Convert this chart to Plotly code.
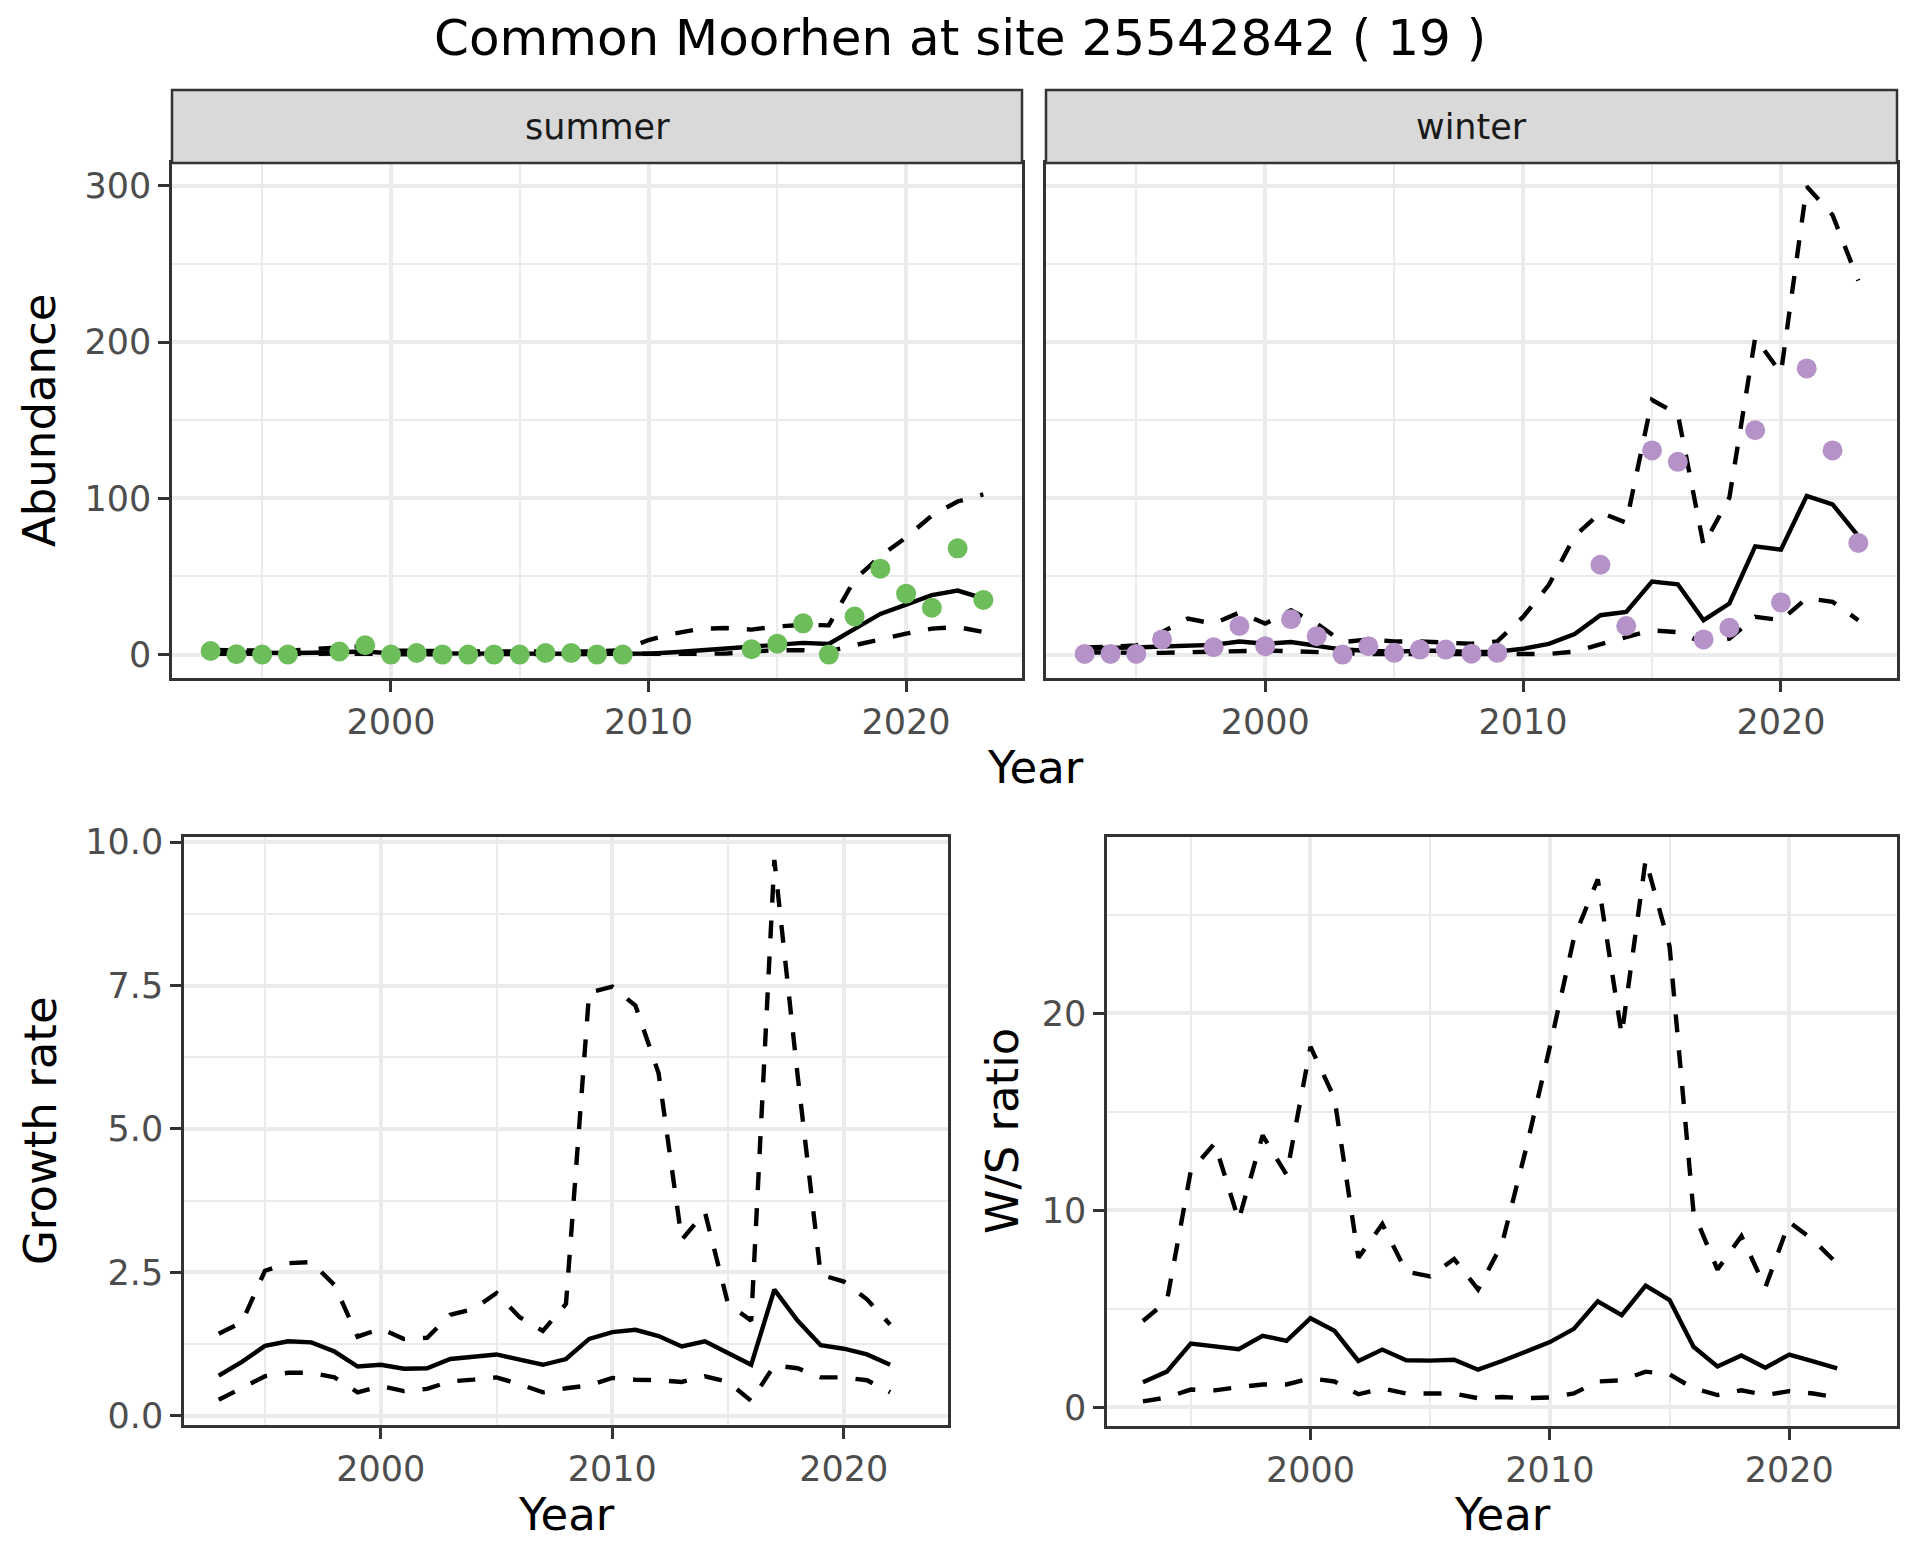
import plotly.graph_objects as go

# ---------------- data ----------------
years_fit = list(range(1993, 2024))          # abundance model years
years_rate = list(range(1993, 2023))         # growth / ratio years

summer_obs_years = [1993, 1994, 1995, 1996, 1998, 1999, 2000, 2001, 2002, 2003, 2004, 2005,
                    2006, 2007, 2008, 2009, 2014, 2015, 2016, 2017, 2018, 2019, 2020, 2021,
                    2022, 2023]
summer_obs = [2.3, 0.2, 0, 0, 2, 6, 0, 1, 0, 0, 0, 0, 1, 1, 0, 0, 3.4, 7, 20, 0, 24.4, 55, 39,
              30, 68, 35]

winter_obs_years = [1993, 1994, 1995, 1996, 1998, 1999, 2000, 2001, 2002, 2003, 2004, 2005,
                    2006, 2007, 2008, 2009, 2013, 2014, 2015, 2016, 2017, 2018, 2019, 2020,
                    2021, 2022, 2023]
winter_obs = [0.4, 0.4, 0.4, 9.7, 4.7, 18.3, 5.4, 22.6, 11.8, 0, 5.4, 1.1, 3.2, 3.2, 0.6, 1.1,
              57.5, 18.3, 130.7, 123.4, 9.7, 17.2, 143.6, 33.4, 183.2, 130.7, 71.5]

summer_fit = [1.3, 1.0, 1.0, 1.0, 1.2, 1.8, 2.0, 0.8, 0.7, 0.5, 0.5, 0.5, 0.5, 0.6, 0.6, 0.5,
              0.5, 0.6, 1.5, 2.8, 3.8, 4.8, 6.5, 7.5, 6.8, 16, 26, 32, 38, 41, 36]
summer_upper = [3.0, 2.5, 2.5, 2.5, 3.5, 5.0, 5.5, 2.5, 2.2, 2.0, 2.0, 2.0, 2.0, 2.0, 2.0, 2.0,
                2.8, 9.3, 13.4, 16.5, 17, 16, 18, 19, 18.7, 48, 63, 75, 89, 98, 102.5]
summer_lower = [0.5, 0.3, 0.3, 0.3, 0.4, 0.6, 0.7, 0.3, 0.2, 0.2, 0.2, 0.2, 0.2, 0.2, 0.2, 0.2,
                0.2, 0.2, 0.4, 0.4, 0.6, 2.0, 2.8, 2.8, 2.0, 6.0, 10, 13.4, 16.6, 17.6, 14.4]

winter_fit = [4.1, 4.0, 4.5, 5.2, 5.8, 6.2, 8.4, 6.9, 8.0, 5.8, 3.2, 2.4, 1.9, 2.4, 2.4, 1.5,
              1.9, 3.7, 6.9, 13.1, 25.2, 27.3, 46.7, 45.0, 22.0, 32.7, 69.3, 67.2, 101.6, 96.2,
              75.8]
winter_upper = [4.5, 4.8, 5.8, 14.4, 23.0, 19.8, 26.9, 19.8, 28.4, 19.8, 8.0, 9.7, 8.4, 8.4,
                8.0, 6.9, 8.4, 24.1, 44.6, 75.8, 90.9, 84.4, 163, 154, 70, 100.5, 202.8, 180.2,
                299.7, 281.4, 239.4]
winter_lower = [1.5, 1.1, 1.1, 1.1, 1.5, 1.9, 2.4, 2.6, 2.2, 1.5, 0.6, 0.4, 0.4, 0.4, 0.4, 0.4,
                0.5, 0.4, 0.4, 1.9, 6.9, 11.2, 15.5, 14.4, 7.5, 10.1, 24.1, 22.0, 36.0, 33.8,
                22.0]

growth_fit = [0.70, 0.94, 1.22, 1.30, 1.28, 1.12, 0.86, 0.89, 0.82, 0.83, 0.99, 1.03, 1.07,
              0.98, 0.89, 0.99, 1.34, 1.46, 1.50, 1.39, 1.21, 1.30, 1.10, 0.89, 2.20, 1.66,
              1.23, 1.17, 1.07, 0.89]
growth_upper = [1.43, 1.63, 2.53, 2.66, 2.68, 2.28, 1.38, 1.52, 1.34, 1.36, 1.76, 1.86, 2.14,
                1.72, 1.48, 1.95, 7.38, 7.48, 7.15, 5.97, 3.07, 3.55, 1.95, 1.66, 9.69, 5.95,
                2.46, 2.34, 2.03, 1.59]
growth_lower = [0.28, 0.48, 0.69, 0.75, 0.75, 0.67, 0.41, 0.52, 0.43, 0.47, 0.60, 0.63, 0.67,
                0.55, 0.41, 0.48, 0.53, 0.66, 0.63, 0.62, 0.59, 0.69, 0.59, 0.26, 0.88, 0.83,
                0.67, 0.67, 0.62, 0.41]

ratio_fit = [1.27, 1.81, 3.23, 3.11, 2.95, 3.63, 3.37, 4.52, 3.88, 2.35, 2.93, 2.39, 2.37, 2.41,
             1.91, 2.35, 2.81, 3.31, 3.98, 5.38, 4.68, 6.18, 5.44, 3.07, 2.07, 2.63, 2.01, 2.67,
             2.33, 1.97]
ratio_upper = [4.38, 5.38, 12.0, 13.4, 9.5, 13.8, 11.8, 18.3, 15.7, 7.59, 9.30, 6.89, 6.65, 7.53,
               5.98, 8.29, 13.1, 18.3, 23.8, 26.8, 18.9, 27.8, 23.4, 9.90, 6.99, 8.69, 6.08,
               9.40, 8.49, 7.29]
ratio_lower = [0.30, 0.50, 0.90, 0.86, 1.02, 1.16, 1.16, 1.47, 1.31, 0.66, 0.96, 0.70, 0.70,
               0.70, 0.46, 0.52, 0.46, 0.50, 0.70, 1.31, 1.37, 1.81, 1.67, 0.96, 0.62, 0.86,
               0.62, 0.82, 0.70, 0.50]

title_text = "Common Moorhen at site 25542842 ( 19 )"
strip_labels = ["summer", "winter"]
GREEN = "#6DBD5B"
PURPLE = "#B593C9"

# ---------------- layout helpers ----------------
W, H = 1920, 1560
OFF = 8  # page body margin offset
FONT = "DejaVu Sans"


def fx(p):
    return (p - OFF) / W


def fy(p):
    return 1 - (p - OFF) / H


DASH = "18px,18px"
LW = 4.4

fig = go.Figure()


def add_lines(xs, fit, up, lo, xa, ya):
    for vals, dash in ((up, DASH), (lo, DASH), (fit, "solid")):
        fig.add_trace(go.Scatter(x=xs, y=vals, mode="lines", xaxis=xa, yaxis=ya,
                                 line=dict(color="black", width=LW, dash=dash),
                                 showlegend=False, hoverinfo="skip"))


add_lines(years_fit, summer_fit, summer_upper, summer_lower, "x", "y")
fig.add_trace(go.Scatter(x=summer_obs_years, y=summer_obs, mode="markers", xaxis="x", yaxis="y",
                         marker=dict(color=GREEN, size=20), showlegend=False))
add_lines(years_fit, winter_fit, winter_upper, winter_lower, "x2", "y2")
fig.add_trace(go.Scatter(x=winter_obs_years, y=winter_obs, mode="markers", xaxis="x2",
                         yaxis="y2", marker=dict(color=PURPLE, size=20), showlegend=False))
add_lines(years_rate, growth_fit, growth_upper, growth_lower, "x3", "y3")
add_lines(years_rate, ratio_fit, ratio_upper, ratio_lower, "x4", "y4")

GRID = "#EBEBEB"
AX = "#333333"


def axis(domain, rng, tickvals, minorvals, anchor, ticktext=None, labels=True):
    d = dict(domain=domain, range=rng, tickmode="array", tickvals=tickvals,
             showgrid=True, gridcolor=GRID, gridwidth=3.5, zeroline=False, automargin=False,
             showline=True, mirror=True, linecolor=AX, linewidth=2.5,
             ticks="outside" if labels else "", ticklen=11, tickwidth=3, tickcolor=AX,
             showticklabels=labels, anchor=anchor,
             tickfont=dict(family=FONT, size=35, color="#4D4D4D"),
             minor=dict(tickmode="array", tickvals=minorvals, showgrid=True, gridcolor=GRID,
                        gridwidth=1.7, ticks=""))
    if ticktext is not None:
        d["ticktext"] = ticktext
    return d


xr = [1991.5, 2024.5]
xt = [2000, 2010, 2020]
xm = [1995, 2005, 2015]
top_y = [fy(678), fy(163)]

fig.update_layout(
    width=W, height=H, margin=dict(l=0, r=0, t=0, b=0, autoexpand=False),
    paper_bgcolor="white", plot_bgcolor="white", showlegend=False,
    font=dict(family=FONT),
    xaxis=axis([fx(172), fx(1022)], xr, xt, xm, "y"),
    yaxis=axis(top_y, [-15, 314.7], [0, 100, 200, 300], [50, 150, 250], "x"),
    xaxis2=axis([fx(1046), fx(1897)], xr, xt, xm, "y2"),
    yaxis2=axis(top_y, [-15, 314.7], [0, 100, 200, 300], [50, 150, 250], "x2", labels=False),
    xaxis3=axis([fx(184), fx(948)], xr, xt, xm, "y3"),
    yaxis3=axis([fy(1425), fy(837)], [-0.16, 10.09], [0, 2.5, 5, 7.5, 10], [1.25, 3.75, 6.25, 8.75],
                "x3", ticktext=["0.0", "2.5", "5.0", "7.5", "10.0"]),
    xaxis4=axis([fx(1107), fx(1897)], xr, xt, xm, "y4"),
    yaxis4=axis([fy(1426), fy(837)], [-0.95, 28.95], [0, 10, 20], [5, 15, 25], "x4"),
)

shapes = []
annotations = []
for (x0, x1), lab in zip([(172, 1022), (1046, 1897)], strip_labels):
    shapes.append(dict(type="rect", xref="paper", yref="paper", x0=fx(x0), x1=fx(x1),
                       y0=fy(163), y1=fy(90), fillcolor="#D9D9D9",
                       line=dict(color=AX, width=2.5), layer="above"))
    annotations.append(dict(text=lab, xref="paper", yref="paper", x=fx((x0 + x1) / 2),
                            y=fy(127), xanchor="center", yanchor="middle", showarrow=False,
                            font=dict(family=FONT, size=35, color="#1A1A1A")))

annotations.append(dict(text=title_text, xref="paper", yref="paper", x=fx(960), y=fy(38),
                        xanchor="center", yanchor="middle", showarrow=False, borderpad=0,
                        font=dict(family=FONT, size=50, color="black")))

axis_titles = [
    ("Abundance", 40, 421, -90),
    ("Year", 1035, 767, 0),
    ("Growth rate", 40, 1131, -90),
    ("Year", 566, 1514, 0),
    ("W/S ratio", 1002, 1131, -90),
    ("Year", 1502, 1514, 0),
]
for t, x, y, ang in axis_titles:
    annotations.append(dict(text=t, xref="paper", yref="paper", x=fx(x), y=fy(y),
                            xanchor="center", yanchor="middle", showarrow=False, textangle=ang,
                            font=dict(family=FONT, size=45, color="black")))

fig.update_layout(shapes=shapes, annotations=annotations)
fig.write_html("out.html")
